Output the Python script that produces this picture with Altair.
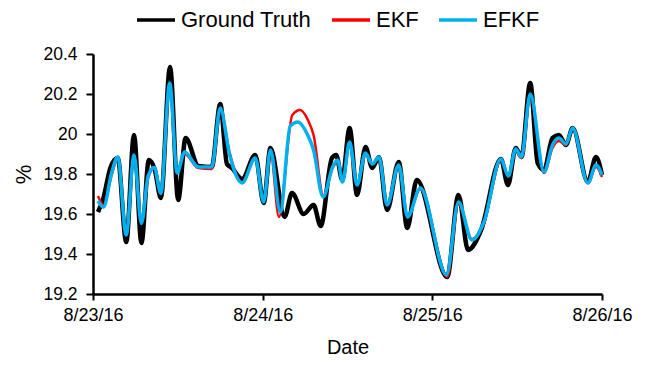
import altair as alt
import pandas as pd

series_names = ["Ground Truth", "EKF", "EFKF"]
series_colors = ["#000000", "#FF0000", "#00B0F0"]

x_tick_hours = [0, 24, 48, 72]
x_tick_labels = ["8/23/16", "8/24/16", "8/25/16", "8/26/16"]
y_ticks = [19.2, 19.4, 19.6, 19.8, 20.0, 20.2, 20.4]

gt_hours = [0.7, 1.4, 2.5, 3.5, 4.7, 5.8, 6.85, 7.9, 8.75, 9.6, 10.9, 12.05, 13.1, 14.9, 16.8,
            18.0, 18.95, 19.65, 21.1, 22.95, 24.15, 25.1, 27.1, 28.15, 29.8, 31.2, 32.2, 33.8,
            34.4, 35.25, 36.3, 37.35, 38.55, 39.5, 40.45, 41.6, 43.25, 44.45, 45.8, 50.1, 51.7,
            53.05, 54.9, 57.7, 58.7, 59.8, 60.6, 61.85, 62.9, 63.8, 65.0, 65.9, 66.9, 67.85,
            70.0, 71.15, 72.0]
gt_values = [19.61, 19.67, 19.835, 19.88, 19.46, 19.995, 19.455, 19.87, 19.82, 19.68, 20.335,
             19.67, 19.98, 19.84, 19.835, 20.15, 19.85, 19.83, 19.775, 19.895, 19.655, 19.93,
             19.585, 19.705, 19.6, 19.645, 19.54, 19.88, 19.895, 19.77, 20.03, 19.695, 19.935,
             19.83, 19.885, 19.62, 19.86, 19.53, 19.77, 19.285, 19.695, 19.42, 19.52, 19.875,
             19.745, 19.93, 19.885, 20.255, 19.855, 19.82, 19.98, 19.995, 19.945, 20.03, 19.76,
             19.885, 19.795]

efkf_hours = [0.7, 1.5, 2.6, 3.5, 4.7, 5.8, 6.85, 7.8, 8.65, 9.6, 10.85, 11.9, 12.95, 14.9,
              16.8, 18.0, 19.3, 21.1, 22.95, 24.15, 25.1, 26.5, 27.9, 29.0, 30.3, 31.2, 32.55,
              33.9, 34.6, 35.3, 36.3, 37.35, 38.55, 39.5, 40.45, 41.6, 43.25, 44.5, 46.3, 50.0,
              51.7, 53.6, 55.3, 57.7, 58.75, 59.8, 60.6, 61.85, 63.8, 65.0, 65.9, 66.9, 67.85,
              70.0, 71.15, 72.0]
efkf_values = [19.665, 19.635, 19.8, 19.885, 19.495, 19.895, 19.553, 19.79, 19.833, 19.703,
               20.255, 19.805, 19.91, 19.835, 19.835, 20.13, 19.9, 19.755, 19.88, 19.66, 19.92,
               19.61, 20.04, 20.06, 20.0, 19.92, 19.685, 19.835, 19.87, 19.76, 19.96, 19.745,
               19.905, 19.85, 19.885, 19.645, 19.845, 19.585, 19.73, 19.295, 19.66, 19.47,
               19.56, 19.875, 19.79, 19.925, 19.885, 20.2, 19.81, 19.945, 19.98, 19.95, 20.03,
               19.755, 19.845, 19.795]

ekf_hours = [0.7, 1.5, 2.6, 3.5, 4.7, 5.8, 6.85, 7.8, 8.65, 9.6, 10.85, 11.9, 12.95, 14.9,
             16.8, 18.0, 19.3, 21.1, 22.95, 24.15, 25.1, 26.3, 28.2, 29.3, 30.4, 31.2, 32.6,
             33.9, 34.6, 35.3, 36.3, 37.35, 38.55, 39.5, 40.45, 41.6, 43.25, 44.5, 46.3, 50.1,
             51.7, 53.6, 55.3, 57.7, 58.75, 59.8, 60.6, 61.85, 63.8, 65.0, 65.9, 66.9, 67.85,
             70.0, 71.15, 72.0]
ekf_values = [19.69, 19.645, 19.79, 19.875, 19.5, 19.885, 19.56, 19.78, 19.83, 19.71, 20.24,
              19.81, 19.9, 19.83, 19.825, 20.13, 19.91, 19.76, 19.875, 19.665, 19.915, 19.585,
              20.095, 20.12, 20.07, 19.995, 19.69, 19.83, 19.86, 19.765, 19.95, 19.75, 19.9,
              19.85, 19.88, 19.65, 19.84, 19.59, 19.725, 19.285, 19.65, 19.475, 19.555, 19.87,
              19.79, 19.92, 19.88, 20.19, 19.805, 19.93, 19.965, 19.945, 20.025, 19.755,
              19.835, 19.785]

frames = []
for name, hrs, vals in [("Ground Truth", gt_hours, gt_values),
                        ("EKF", ekf_hours, ekf_values),
                        ("EFKF", efkf_hours, efkf_values)]:
    frames.append(pd.DataFrame({"hour": hrs, "value": vals, "series": name}))
df = pd.concat(frames, ignore_index=True)

FONT = "Liberation Sans, Arial, sans-serif"

label_expr = "[" + ",".join("'" + s + "'" for s in x_tick_labels) + "][round(datum.value/24)]"

x_enc = alt.X("hour:Q",
              scale=alt.Scale(domain=[0, 72], nice=False, zero=False),
              axis=alt.Axis(values=x_tick_hours, labelExpr=label_expr, title="Date",
                            grid=False, tickSize=6, tickWidth=2, domainWidth=2.5,
                            domainColor="black", tickColor="black", labelColor="black",
                            labelFontSize=18, labelFont=FONT, labelPadding=6,
                            labelFlush=False, labelOverlap=False,
                            titleFontSize=20, titleFont=FONT, titleFontWeight="normal",
                            titleColor="black", titlePadding=13))
y_enc = alt.Y("value:Q",
              scale=alt.Scale(domain=[19.2, 20.4], nice=False, zero=False),
              axis=alt.Axis(values=y_ticks, format="~g", title="%", grid=False,
                            tickSize=7, tickWidth=2, domainWidth=2.5, domainColor="black",
                            tickColor="black", labelColor="black", labelFontSize=17.5,
                            labelFont=FONT, labelPadding=9, titleFontSize=22, titleFont=FONT,
                            titleFontWeight="normal", titleColor="black", titlePadding=7))
color_enc = alt.Color("series:N",
                      scale=alt.Scale(domain=series_names, range=series_colors),
                      legend=alt.Legend(title=None, orient="none", direction="horizontal",
                                        legendX=42, legendY=-55, symbolType="stroke",
                                        symbolSize=1444, symbolStrokeWidth=3.5,
                                        labelFontSize=22, labelFont=FONT, labelColor="black",
                                        labelOffset=4, columnPadding=13, padding=0))

widths = {"Ground Truth": 4.5, "EKF": 2.5, "EFKF": 3.5}
layers = []
for name in series_names:
    layers.append(
        alt.Chart(df).transform_filter(alt.datum.series == name)
        .mark_line(interpolate="monotone", strokeWidth=widths[name])
        .encode(x=x_enc, y=y_enc, color=color_enc)
    )

chart = alt.layer(*layers).properties(
    width=509, height=240,
    autosize=alt.AutoSizeParams(type="none"),
    padding={"left": 85, "top": 46, "right": 36, "bottom": 63},
).configure_view(stroke=None)

chart.save("out.html", embed_options={"renderer": "svg", "actions": False})
